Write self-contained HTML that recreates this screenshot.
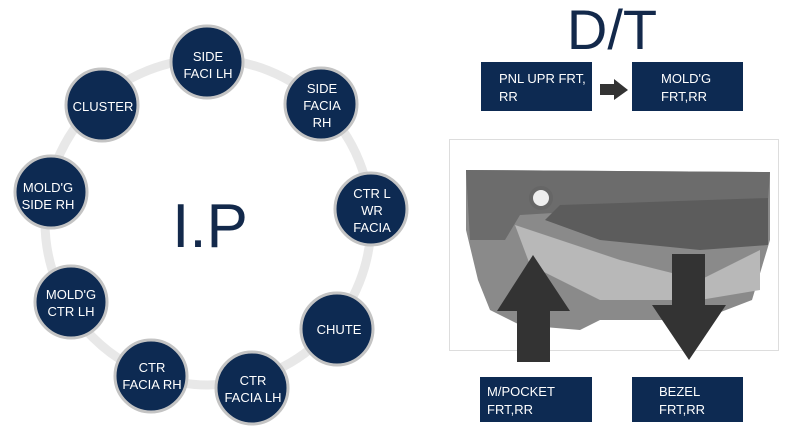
<!DOCTYPE html>
<html><head><style>
body{margin:0;width:809px;height:438px;background:#fff;overflow:hidden;position:relative;font-family:"Liberation Sans",sans-serif}
.b{position:absolute;background:#0d2a52;color:#fff;font-size:13px;line-height:18px;box-sizing:border-box}
</style></head><body>
<svg width="809" height="438" style="position:absolute;left:0;top:0" font-family="Liberation Sans, sans-serif">
<circle cx="208" cy="222" r="163" fill="none" stroke="#e8e8e8" stroke-width="9"/>
<g fill="#0d2a52" stroke="#c4c4c4" stroke-width="3">
<circle cx="207" cy="62" r="36"/>
<circle cx="321" cy="104" r="36"/>
<circle cx="371" cy="209" r="36"/>
<circle cx="337" cy="329" r="36"/>
<circle cx="252" cy="388" r="36"/>
<circle cx="151" cy="376" r="36"/>
<circle cx="71" cy="302" r="36"/>
<circle cx="51" cy="192" r="36"/>
<circle cx="102" cy="105" r="36"/>
</g>
<g fill="#fff" font-size="13" text-anchor="middle">
<text x="208" y="61">SIDE</text><text x="208" y="78">FACI LH</text>
<text x="322" y="93">SIDE</text><text x="322" y="110">FACIA</text><text x="322" y="127">RH</text>
<text x="372" y="198">CTR L</text><text x="372" y="215">WR</text><text x="372" y="232">FACIA</text>
<text x="339" y="334">CHUTE</text>
<text x="253" y="385">CTR</text><text x="253" y="402">FACIA LH</text>
<text x="152" y="372">CTR</text><text x="152" y="389">FACIA RH</text>
<text x="71" y="299">MOLD'G</text><text x="71" y="316">CTR LH</text>
<text x="48" y="192">MOLD'G</text><text x="48" y="209">SIDE RH</text>
<text x="103" y="111">CLUSTER</text>
</g>
<text x="210" y="247" font-size="62" fill="#13294b" text-anchor="middle">I.P</text>
<text x="612" y="49" font-size="56" fill="#13294b" text-anchor="middle">D/T</text>
<polygon points="600,84 614,84 614,79 628,90 614,100 614,95 600,95" fill="#333"/>
<rect x="449.5" y="139.5" width="329" height="211" fill="#fff" stroke="#ddd"/>
<path d="M466,170 L770,172 L770,240 L752,300 L700,320 L600,320 L580,330 L520,325 L490,310 L478,280 L466,230 Z" fill="#8a8a8a"/>
<path d="M466,170 L770,172 L768,200 L520,215 L505,240 L470,240 Z" fill="#6c6c6c"/>
<path d="M515,225 L620,260 L700,280 L760,250 L760,290 L700,300 L600,300 L530,265 Z" fill="#b8b8b8"/>
<path d="M560,205 L768,198 L768,245 L700,250 L600,240 L545,220 Z" fill="#5c5c5c"/>
<circle cx="541" cy="198" r="10" fill="#eee" stroke="#666" stroke-width="4"/>
<polygon points="517,362 550,362 550,311 570,311 533,255 497,311 517,311" fill="#333"/>
<polygon points="672,254 705,254 705,305 726,305 689,360 652,305 672,305" fill="#333"/>
</svg>
<div class="b" style="left:481px;top:62px;width:111px;height:49px;padding:8px 0 0 18px">PNL UPR FRT,<br>RR</div>
<div class="b" style="left:632px;top:62px;width:111px;height:49px;padding:8px 0 0 29px">MOLD'G<br>FRT,RR</div>
<div class="b" style="left:480px;top:377px;width:112px;height:45px;padding:6px 0 0 7px">M/POCKET<br>FRT,RR</div>
<div class="b" style="left:632px;top:377px;width:111px;height:45px;padding:6px 0 0 27px">BEZEL<br>FRT,RR</div>
</body></html>
